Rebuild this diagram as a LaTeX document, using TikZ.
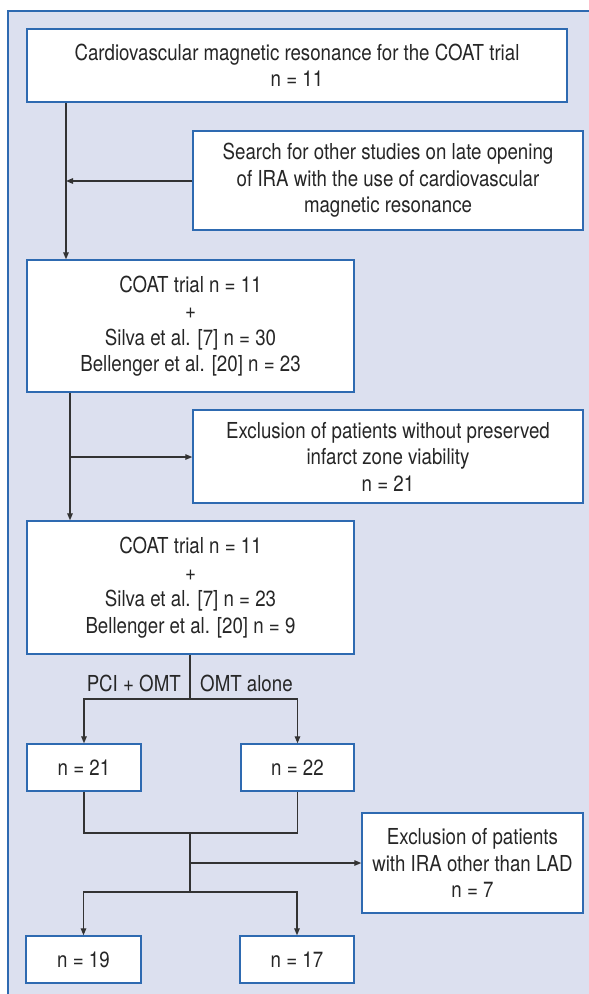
\documentclass[tikz,border=0pt]{standalone}
\usepackage{fontspec}
\setmainfont{TeX Gyre Heros}[FakeStretch=0.85]
\usetikzlibrary{arrows.meta}
\definecolor{panelbg}{HTML}{DCE0EF}
\definecolor{panelblue}{HTML}{2E6AB1}
\definecolor{linegray}{HTML}{333333}
\tikzset{
  box/.style={draw=panelblue, line width=1.4pt, fill=white, align=center,
    inner sep=0pt, text=black!85, font=\fontsize{22}{26.5}\selectfont},
  link/.style={draw=linegray, line width=1.3pt},
  arr/.style={link, -{Triangle[length=7pt,width=5.5pt]}},
  lbl/.style={inner sep=0pt, text=black!85, font=\fontsize{22}{26.5}\selectfont}
}
\begin{document}
\begin{tikzpicture}[x=1pt,y=-1pt]
  \useasboundingbox (0,0) rectangle (589,994);
  \fill[panelbg] (8,11) rectangle (600,1000);
  \draw[panelblue, line width=1.4pt] (8,1000) -- (8,11) -- (600,11);
  % boxes
  \node[box, minimum width=540pt, minimum height=73pt] (0) at (297,65.5)
    {Cardiovascular magnetic resonance for the COAT trial\\n = 11};
  \node[box, minimum width=390pt, minimum height=99pt] (1) at (388,180.5)
    {Search for other studies on late opening\\of IRA with the use of cardiovascular\\magnetic resonance};
  \node[box, minimum width=327pt, minimum height=132pt] (2) at (190.5,326)
    {COAT trial n = 11\\+\\Silva et al. [7] n = 30\\Bellenger et al. [20] n = 23};
  \node[box, minimum width=390pt, minimum height=93pt] (3) at (388,456.5)
    {Exclusion of patients without preserved\\infarct zone viability\\n = 21};
  \node[box, minimum width=327pt, minimum height=133pt] (4) at (190.5,587.5)
    {COAT trial n = 11\\+\\Silva et al. [7] n = 23\\Bellenger et al. [20] n = 9};
  \node[box, minimum width=114pt, minimum height=47pt] (5) at (84,767.5) {n = 21};
  \node[box, minimum width=113pt, minimum height=47pt] (6) at (297.5,767.5) {n = 22};
  \node[box, minimum width=221pt, minimum height=100pt] (7) at (472.5,863)
    {Exclusion of patients\\with IRA other than LAD\\n = 7};
  \node[box, minimum width=115pt, minimum height=47pt] (8) at (83.5,959.5) {n = 19};
  \node[box, minimum width=114pt, minimum height=47pt] (9) at (297,959.5) {n = 17};
  \node[lbl, anchor=east] (pci) at (181,683) {PCI + OMT};
  \node[lbl, anchor=west] (omt) at (200,683) {OMT alone};
  % junctions
  \coordinate (j1) at (66,181);
  \coordinate (j2) at (70,457);
  \coordinate (j3) at (190,699);
  \coordinate (j4) at (190,833);
  \coordinate (j5) at (190,892);
  % connectors
  \draw[arr] (j1 |- 0.south) -- (j1 |- 2.north);
  \draw[arr] (1.west |- j1) -- (j1);
  \draw[arr] (j2 |- 2.south) -- (j2 |- 4.north);
  \draw[arr] (j2) -- (3.west |- j2);
  \draw[link] (j3 |- 4.south) -- (j3);
  \draw[arr] (j3) -| (5.north);
  \draw[arr] (j3) -| (6.north);
  \draw[link] (5.south) |- (j4) -| (6.south);
  \draw[link] (j4) -- (j5);
  \draw[arr] (j4 |- 7.west) -- (7.west);
  \draw[arr] (j5) -| (8.north);
  \draw[arr] (j5) -| (9.north);
\end{tikzpicture}
\end{document}
